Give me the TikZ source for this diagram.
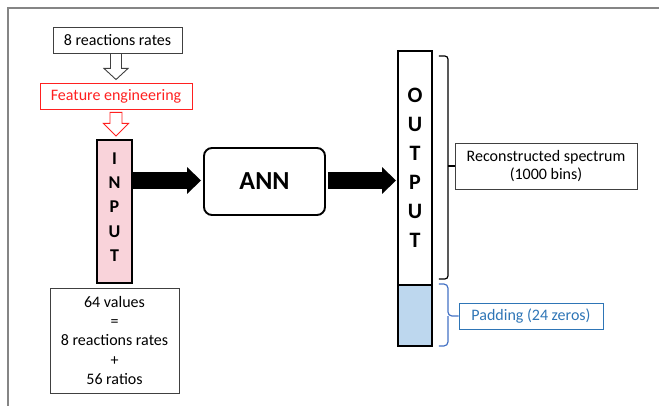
\documentclass[tikz,border=0pt]{standalone}
\usepackage{fontspec}
\setmainfont{Carlito}
\usetikzlibrary{arrows.meta,calc}
\definecolor{framegray}{HTML}{858585}
\definecolor{boxgray}{HTML}{404040}
\definecolor{featred}{HTML}{FF2020}
\definecolor{pinkfill}{HTML}{F9D3DA}
\definecolor{padblue}{HTML}{2E75B6}
\definecolor{bracegray}{HTML}{4472C4}
\definecolor{padfill}{HTML}{BDD7EE}
\tikzset{
  txt/.style={font=\fontsize{16}{19.4}\selectfont},
  thinbox/.style={draw=boxgray, line width=0.9pt, inner sep=0pt, align=center, txt},
  colbox/.style={draw=black, line width=1.9pt, inner sep=0pt},
  fatarrow/.style={line width=17pt, -{Triangle[length=14pt,width=26pt]}},
  hollowarrow/.style={line width=0.9pt, line join=miter},
}
\begin{document}
\begin{tikzpicture}[x=1pt,y=-1pt]
\useasboundingbox (0,0) rectangle (659,406);
% frame
\draw[framegray, line width=1.2pt] (8,406) -- (8,8) -- (659,8);

% nodes
\node[thinbox, minimum width=129, minimum height=26] (rates) at (117.5,40) {8 reactions rates};
\node[thinbox, draw=featred, text=featred, minimum width=152, minimum height=26] (feat) at (116,96) {Feature engineering};
\node[colbox, fill=pinkfill, minimum width=35, minimum height=143] (input) at (114.5,211.5) {};
\node[align=center, inner sep=0pt, font=\fontsize{18}{24.3}\selectfont\bfseries] (inputtxt) at (114.5,207) {I\\N\\P\\U\\T};
\node[thinbox, minimum width=129, minimum height=105] (values) at (114.5,340.5)
  {64 values\\=\\8 reactions rates\\+\\56 ratios};
\node[draw=black, line width=1.9pt, rounded corners=8pt, minimum width=121, minimum height=67,
  font=\fontsize{26}{30}\selectfont\bfseries] (ann) at (264.5,181.5) {ANN};
\node[colbox, fill=white, minimum width=34, minimum height=234] (output) at (415,168) {};
\node[align=center, inner sep=0pt, font=\fontsize{22}{29}\selectfont\bfseries] (outputtxt) at (415,168) {O\\U\\T\\P\\U\\T};
\node[colbox, fill=padfill, minimum width=34, minimum height=61] (pad) at (415,315.5) {};
\node[thinbox, minimum width=182, minimum height=46, font=\fontsize{16}{18.5}\selectfont] (recon) at (546,166)
  {Reconstructed spectrum\\(1000 bins)};
\node[thinbox, draw=padblue, text=padblue, minimum width=144, minimum height=26] (padlabel) at (531,316) {Padding (24 zeros)};

% hollow arrows
\draw[hollowarrow, draw=boxgray]
  ($(rates.south -| feat.north)+(-5.5,0)$) -- ($(rates.south -| feat.north)+(-5.5,15)$)
  -- ($(rates.south -| feat.north)+(-12,15)$) -- ($(feat.north)+(0,-3)$)
  -- ($(rates.south -| feat.north)+(12,15)$) -- ($(rates.south -| feat.north)+(5.5,15)$)
  -- ($(rates.south -| feat.north)+(5.5,0)$);
\draw[hollowarrow, draw=featred]
  ($(feat.south)+(-6,3)$) -- ($(feat.south)+(-6,14)$)
  -- ($(feat.south)+(-12.5,14)$) -- ($(input.north -| feat.south)+(0,-3)$)
  -- ($(feat.south)+(12.5,14)$) -- ($(feat.south)+(6,14)$)
  -- ($(feat.south)+(6,3)$) -- cycle;

% black arrows
\draw[fatarrow, shorten >=2pt] (input.east |- 0,180.5) -- (ann.west |- 0,180.5);
\draw[fatarrow, shorten <=2pt, shorten >=1pt] (ann.east |- 0,180.5) -- (output.west |- 0,180.5);

% black bracket
\draw[line width=1.2pt, rounded corners=3pt]
  ($(output.north east)+(6,6)$) -| ($(output.south east)+(15,-7)$) -- ($(output.south east)+(6,-7)$);
\draw[line width=1.2pt] ($(output.east |- recon.west)+(15,0)$) -- (recon.west);

% blue brace
\draw[bracegray, line width=1.2pt, rounded corners=4pt]
  ($(pad.north east)+(6,0)$) -| ($(pad.east |- padlabel.west)+(15,0)$) -- (padlabel.west);
\draw[bracegray, line width=1.2pt, rounded corners=4pt]
  ($(pad.south east)+(6,-1)$) -| ($(pad.east |- padlabel.west)+(15,0)$);
\end{tikzpicture}
\end{document}
